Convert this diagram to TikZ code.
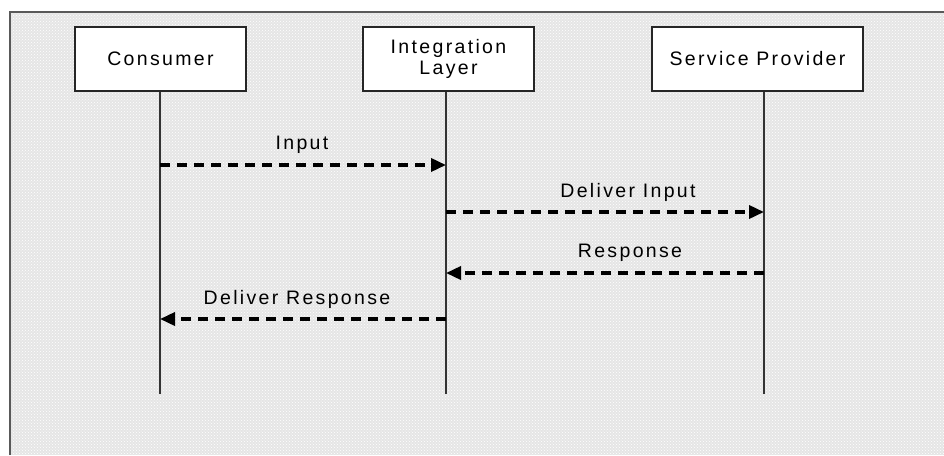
\documentclass[tikz,border=0pt]{standalone}
\usepackage{fontspec}
\setmainfont[LetterSpace=12]{Liberation Sans}
\usetikzlibrary{arrows.meta,patterns}
\begin{document}
\begin{tikzpicture}[x=1pt,y=-1pt,
  actor/.style={draw=black!85,line width=2pt,fill=white,minimum width=171pt,minimum height=64pt,inner sep=0pt,align=center,font=\fontsize{19.5}{21}\selectfont},
  life/.style={draw=black!80,line width=1.5pt},
  msg/.style={draw=black,line width=3.5pt,dash pattern=on 10pt off 7pt,-{Triangle[length=15pt,width=13pt]}},
  lbl/.style={font=\fontsize{19.5}{21}\selectfont,inner sep=0pt}]
\useasboundingbox (0,0) rectangle (944,455);
\fill[gray!20] (10,12) rectangle (944,455);
\fill[pattern=crosshatch dots,pattern color=white] (10,12) rectangle (944,455);
\draw[black!65,line width=2.5pt] (10,455) -- (10,12) -- (944,12);
\node[actor] (c) at (160.5,59) {Consumer};
\node[actor] (i) at (448.5,59) {Integration\\Layer};
\node[actor,minimum width=211pt] (s) at (757.5,59) {Service Provider};
\coordinate (ce) at (160,394);
\coordinate (ie) at (446,394);
\coordinate (se) at (764,394);
\draw[life] (c.south -| ce) -- (ce);
\draw[life] (i.south -| ie) -- (ie);
\draw[life] (s.south -| se) -- (se);
\coordinate (c1) at (160,165); \coordinate (i1) at (446,165);
\coordinate (i2) at (446,212); \coordinate (s2) at (764,212);
\coordinate (s3) at (764,273); \coordinate (i3) at (446,273);
\coordinate (i4) at (446,319); \coordinate (c4) at (160,319);
\draw[msg] (c1) -- (i1);
\draw[msg] (i2) -- (s2);
\draw[msg] (s3) -- (i3);
\draw[msg] (i4) -- (c4);
\node[lbl] (l1) at (302,145) {Input};
\node[lbl] (l2) at (628,192) {Deliver Input};
\node[lbl] (l3) at (630,253) {Response};
\node[lbl] (l4) at (297,299) {Deliver Response};
\end{tikzpicture}
\end{document}
